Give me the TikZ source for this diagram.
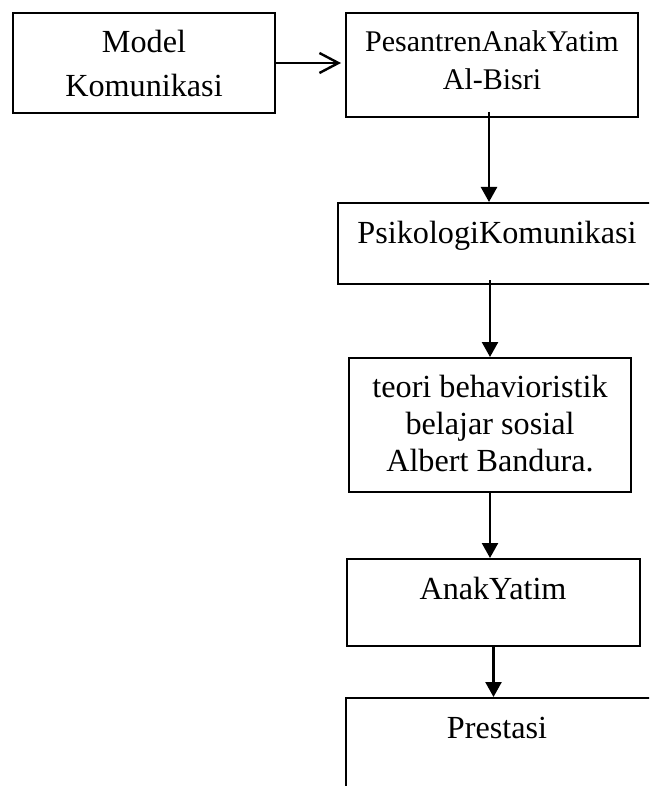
\documentclass[tikz,border=0pt]{standalone}
\usepackage{fontspec}
\setmainfont{Liberation Serif}
\usetikzlibrary{arrows.meta}

\tikzset{
  kotak/.style={draw, line width=1pt, inner sep=0pt},
  teks/.style={inner sep=0pt, align=center, anchor=base},
  panah/.style={line width=1.2pt, -{Triangle[length=7.5pt,width=8pt]}},
}

\begin{document}
\begin{tikzpicture}[x=0.5pt,y=0.5pt,yscale=-1,xscale=1]
\useasboundingbox (0,0) rectangle (649,786);
\clip (0,0) rectangle (649,786);

%Shape: Rectangle [id:model]
\node [kotak, minimum width=131pt, minimum height=50pt] (model) at (144,63) {};
%Shape: Rectangle [id:pesantren]
\node [kotak, minimum width=146pt, minimum height=52pt] (pesantren) at (492,65) {};
%Shape: Rectangle [id:psikologi]
\node [kotak, minimum width=181pt, minimum height=40.5pt] (psikologi) at (519,243.5) {};
%Shape: Rectangle [id:teori]
\node [kotak, minimum width=141pt, minimum height=67pt] (teori) at (490,425) {};
%Shape: Rectangle [id:anak]
\node [kotak, minimum width=146.5pt, minimum height=43.5pt] (anak) at (493.5,602.5) {};
%Shape: Rectangle [id:prestasi]
\node [kotak, minimum width=177pt, minimum height=76pt] (prestasi) at (523,774) {};

% Text Node (base = last line)
\node [teks, font=\fontsize{16.1}{22}\selectfont] (tmodel) at (144,97) {Model\\Komunikasi};
% Text Node
\node [teks, font=\fontsize{15}{19}\selectfont] (tpesantren) at (492,90) {PesantrenAnakYatim\\Al-Bisri};
% Text Node
\node [teks, font=\fontsize{16.1}{19}\selectfont] (tpsikologi) at (497,243) {PsikologiKomunikasi};
% Text Node
\node [teks, font=\fontsize{16.1}{18.5}\selectfont] (tteori) at (490,471) {teori behavioristik\\belajar sosial\\Albert Bandura.};
% Text Node
\node [teks, font=\fontsize{16.1}{19}\selectfont] (tanak) at (493,599) {AnakYatim};
% Text Node
\node [teks, font=\fontsize{16.1}{19}\selectfont] (tprestasi) at (497,738) {Prestasi};

%Straight Lines [id:arrow1]
\draw [line width=1.2pt, -{Straight Barb[length=9.5pt,width=10pt]}] (model.east) -- ([xshift=-2pt]model.east -| pesantren.west);
%Straight Lines [id:arrow2]
\draw [panah] ([xshift=-1.5pt,yshift=-3pt]pesantren.south) -- ([xshift=-1.5pt]pesantren.south |- psikologi.north);
%Straight Lines [id:arrow3]
\draw [panah] ([yshift=-2.5pt]teori.north |- psikologi.south) -- (teori.north);
%Straight Lines [id:arrow4]
\draw [panah] (teori.south) -- (teori.south |- anak.north);
%Straight Lines [id:arrow5]
\draw [panah] (anak.south) -- (anak.south |- prestasi.north);

\end{tikzpicture}
\end{document}
